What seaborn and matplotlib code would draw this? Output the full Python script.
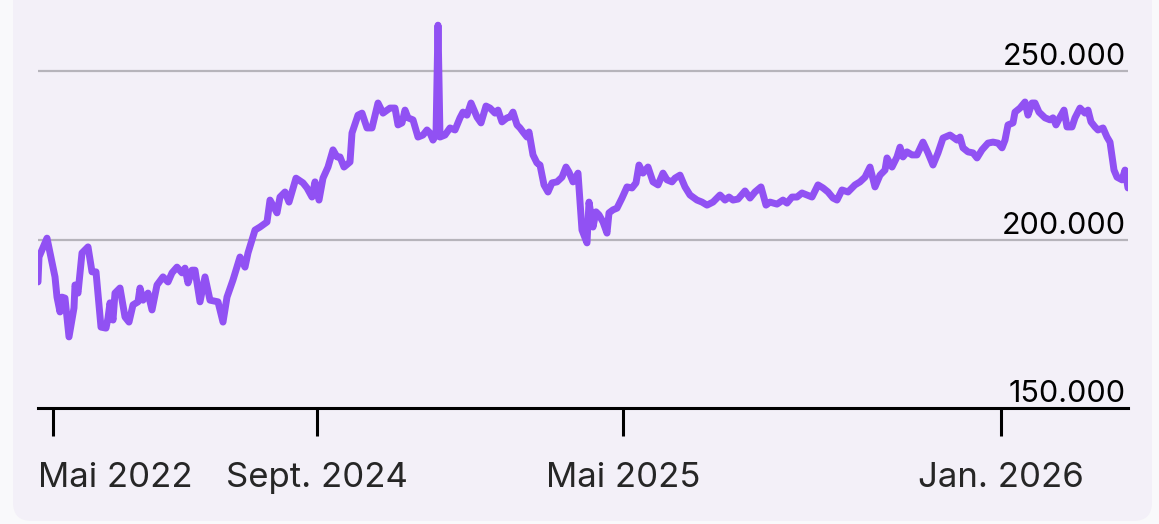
import numpy as np
import pandas as pd
import matplotlib
matplotlib.use("Agg")
import matplotlib.pyplot as plt
import matplotlib.transforms as mtransforms
from matplotlib.patches import FancyBboxPatch
import seaborn as sns

# --- DATA (Wert in Tausend, Position auf der Zeitachse) ---
pos = [0, 1, 9, 17, 19, 22, 24, 27, 31, 36, 37, 40, 44, 50, 54, 58, 63, 68, 70, 72,
       75, 77, 82, 87, 91, 95, 100, 102, 105, 110, 114, 119, 125, 130, 134, 139, 144, 147, 150, 154,
       157, 162, 167, 172, 180, 185, 189, 195, 202, 207, 210, 217, 222, 229, 232, 239, 242, 247, 251, 258,
       265, 269, 274, 277, 281, 285, 290, 295, 299, 302, 306, 312, 314, 320, 324, 329, 334, 340, 345, 352,
       357, 360, 364, 367, 370, 375, 380, 385, 389, 392, 395, 398, 400, 402, 407, 412, 417, 422, 425, 429,
       433, 436, 439, 443, 448, 452, 457, 460, 464, 469, 472, 475, 479, 482, 485, 489, 491, 495, 499, 502,
       506, 510, 514, 519, 524, 528, 531, 535, 540, 544, 549, 551, 555, 558, 561, 565, 569, 571, 575, 579,
       584, 589, 594, 598, 601, 605, 610, 615, 620, 625, 629, 634, 637, 642, 647, 652, 659, 664, 669, 675,
       682, 687, 691, 695, 700, 707, 712, 717, 723, 728, 732, 739, 745, 749, 754, 759, 764, 769, 774, 780,
       785, 790, 795, 799, 804, 810, 817, 822, 827, 832, 837, 842, 847, 849, 854, 859, 862, 865, 869, 874,
       879, 885, 890, 895, 900, 905, 912, 919, 922, 925, 930, 935, 939, 944, 950, 955, 960, 964, 967, 970,
       975, 977, 982, 987, 990, 994, 997, 1001, 1007, 1012, 1015, 1018, 1022, 1026, 1029, 1034, 1037, 1042, 1047, 1050,
       1053, 1057, 1060, 1065, 1069, 1072, 1076, 1079, 1084, 1087, 1090]

wert = [187.4, 194.8, 200.4, 188.9, 182.9, 178.5, 182.9, 182.6, 171.1, 179.7, 186.5, 184.1, 196.0, 197.8, 190.4, 190.4, 174.0, 173.7, 176.7, 181.2,
        176.1, 184.1, 185.6, 177.0, 175.5, 180.6, 181.5, 185.6, 182.0, 184.1, 179.1, 186.5, 188.9, 187.4, 190.1, 191.8, 190.1, 191.5, 187.1, 190.9,
        190.9, 181.5, 188.9, 182.0, 181.5, 175.5, 182.9, 188.0, 194.8, 191.8, 196.0, 202.8, 203.7, 205.2, 211.7, 207.9, 212.6, 214.1, 211.1, 218.2,
        216.8, 215.3, 212.6, 217.1, 211.7, 218.2, 221.5, 226.6, 224.5, 224.5, 221.5, 223.0, 231.6, 236.9, 237.5, 233.1, 233.1, 240.5, 237.5, 239.0,
        239.0, 234.0, 234.6, 238.4, 236.1, 235.5, 230.4, 231.0, 232.5, 231.6, 229.5, 231.0, 263.6, 230.4, 231.0, 233.1, 232.5, 236.1, 237.8, 236.9,
        240.5, 238.4, 236.3, 234.6, 239.6, 239.0, 237.5, 238.4, 234.9, 236.1, 236.3, 237.8, 234.0, 233.1, 231.9, 230.4, 231.9, 225.1, 222.7, 222.1,
        216.2, 214.1, 216.8, 217.1, 218.5, 221.5, 220.0, 217.1, 219.7, 202.8, 199.0, 211.1, 203.7, 208.2, 207.3, 205.2, 201.9, 207.9, 208.8, 209.3,
        212.3, 215.6, 215.3, 216.8, 222.1, 219.7, 221.5, 217.1, 216.2, 219.7, 217.7, 217.1, 218.2, 219.1, 215.6, 213.2, 211.7, 211.1, 210.2, 211.1,
        213.2, 211.7, 212.6, 211.7, 212.0, 214.4, 212.3, 214.1, 215.6, 210.2, 211.1, 210.5, 211.7, 210.8, 212.6, 212.6, 213.8, 213.2, 212.6, 216.2,
        215.3, 214.1, 212.3, 211.7, 214.7, 214.1, 216.2, 217.1, 218.5, 221.5, 215.6, 219.1, 220.6, 224.2, 221.5, 224.5, 227.4, 224.5, 226.0, 225.1,
        225.1, 228.9, 225.7, 222.1, 225.7, 230.1, 231.0, 229.5, 230.4, 227.2, 226.0, 225.7, 224.2, 226.6, 228.6, 228.9, 228.6, 227.2, 229.5, 234.0,
        234.6, 237.8, 239.0, 240.8, 236.9, 240.5, 240.5, 237.8, 236.1, 235.5, 236.1, 234.0, 236.3, 238.4, 233.4, 233.4, 236.1, 239.0, 237.5, 238.4,
        234.9, 233.4, 232.5, 233.1, 230.4, 228.9, 220.6, 218.5, 217.7, 220.6, 215.3]

tick_pos = [15, 279, 585, 963]
tick_labels = ["Mai 2022", "Sept. 2024", "Mai 2025", "Jan. 2026"]
y_ticks = [150000, 200000, 250000]
y_labels = ["150.000", "200.000", "250.000"]

df = pd.DataFrame({"pos": pos, "wert": np.array(wert) * 1000})

# --- STYLE ---
sns.set_style("white")
plt.rcParams["font.family"] = ["Inter", "DejaVu Sans"]

card_color = "#f3f0f8"
line_color = "#9151f3"

fig = plt.figure(figsize=(11.59, 5.24), dpi=100)
fig.patch.set_facecolor("#f9f9fb")

# Karte mit runden Ecken (hinter den Achsen)
card = FancyBboxPatch((13 / 1159, 3 / 524), (1152 - 13) / 1159, 1.2,
                      boxstyle="round,pad=0,rounding_size=0.016",
                      transform=fig.transFigure, facecolor=card_color,
                      edgecolor="none", mutation_aspect=1159 / 524, zorder=-10)
fig.add_artist(card)

ax = fig.add_axes([38 / 1159, 1 - 408 / 524, (1128 - 38) / 1159, 408 / 524])
ax.set_facecolor("none")
ax.set_zorder(5)

sns.lineplot(data=df, x="pos", y="wert", ax=ax, color=line_color,
             linewidth=5.0, solid_joinstyle="round", solid_capstyle="round", zorder=3)

ax.set_xlim(0, 1090)
ax.set_ylim(150000, 250000 + 71 / 3.37 * 1000)

# Gitterlinien
for yv in y_ticks[1:]:
    ax.axhline(yv, color="#b6b4bb", linewidth=1.6, zorder=1)

for side in ["top", "right", "left"]:
    ax.spines[side].set_visible(False)
ax.spines["bottom"].set_linewidth(2.2)
ax.spines["bottom"].set_color("black")

# y-Beschriftungen rechts oberhalb der Linien
offset = mtransforms.ScaledTranslation(-2 / 100, 6 / 100, fig.dpi_scale_trans)
trans = mtransforms.blended_transform_factory(ax.transAxes, ax.transData) + offset
for yv, lab in zip(y_ticks, y_labels):
    ax.text(1.0, yv, lab, transform=trans, ha="right", va="baseline",
            fontsize=22, color="black", zorder=4)
ax.set_yticks([])

# x-Achse
ax.set_xticks(tick_pos)
ax.set_xticklabels(tick_labels, fontsize=25)
ax.tick_params(axis="x", direction="out", length=20, width=2.2, color="black",
               pad=19, bottom=True)
ax.set_xlabel("")
ax.set_ylabel("")

first = ax.get_xticklabels()[0]
first.set_ha("left")
first.set_transform(first.get_transform()
                    + mtransforms.ScaledTranslation(-15 / 100, 0, fig.dpi_scale_trans))

plt.savefig("out.png", dpi=100, facecolor=fig.get_facecolor())
plt.close()
